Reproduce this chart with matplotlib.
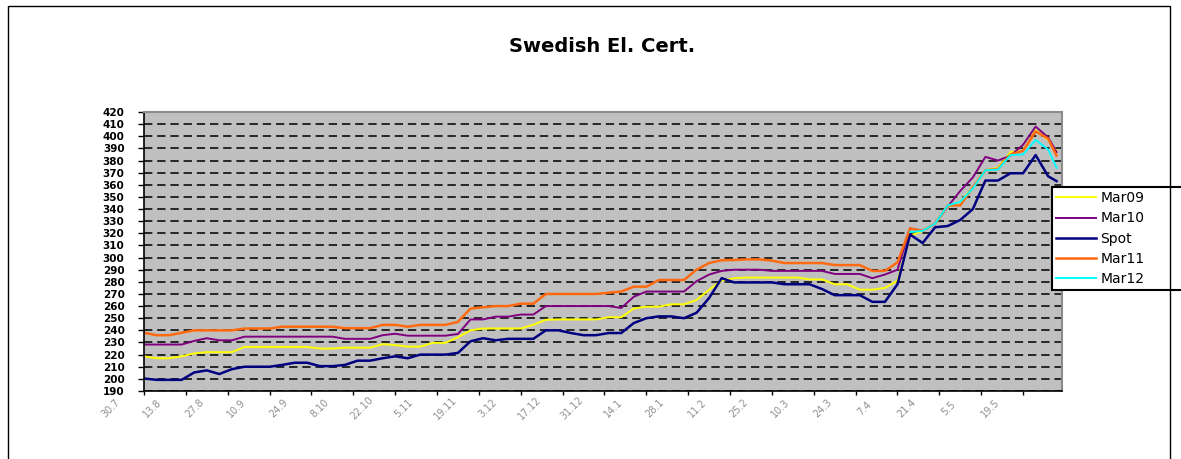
import numpy as np
import matplotlib
matplotlib.use("Agg")
import matplotlib.pyplot as plt
from matplotlib.transforms import ScaledTranslation
from matplotlib.patches import Rectangle

# trading day index (every 3rd day) and the five price series
day = [0, 3, 6, 9, 12, 15, 18, 21, 24, 27, 30, 33, 36, 39, 42, 45, 48, 51, 54, 57,
       60, 63, 66, 69, 72, 75, 78, 81, 84, 87, 90, 93, 96, 99, 102, 105, 108, 111, 114, 117,
       120, 123, 126, 129, 132, 135, 138, 141, 144, 147, 150, 153, 156, 159, 162, 165, 168, 171, 174, 177,
       180, 183, 186, 189, 192, 195, 198, 201, 204, 207, 210, 213, 216, 218]

mar09 = [218.6, 217, 217, 218.6, 221, 222, 222, 222, 226.3, 226.3, 226.3, 226.3, 226.3, 226.3, 225, 225, 225.7, 225.7, 225.7, 228.6,
         227.8, 226.6, 226.6, 229.7, 229.7, 234.3, 240, 241.5, 241.5, 241.5, 241.5, 244.6, 248.7, 249, 249, 249, 249, 250.8, 250.8, 258,
         259.5, 259.5, 261.5, 261.5, 265, 273.5, 281, 283, 283.5, 283.5, 283.5, 283.5, 283.5, 282, 282, 278, 278, 273.5, 273.5, 275,
         281, 318, 322, 328, 342, 346, 358, 372, 374, 387, 388, 405, 397, 388]

mar10 = [228.3, 228.3, 228.3, 228.3, 231.3, 233.5, 231.8, 231.8, 234.8, 234.8, 234.8, 234.8, 234.8, 234.8, 234.8, 234.8, 233, 233, 233, 236,
         237.2, 235.6, 235.6, 235.6, 235.6, 237, 249, 249, 251.3, 251.3, 253, 253, 260, 260, 260, 260, 260, 260, 258.4, 267.7,
         272, 272, 272, 272, 280.5, 286, 289, 290, 290, 290, 289, 289, 289, 289, 289, 286.5, 286.5, 286.5, 283, 286,
         290, 324, 322, 328, 342, 355, 366, 383, 380, 384, 393, 408, 399, 387]

spot = [200.3, 199.2, 199.2, 199.2, 205.3, 207, 204, 208, 210, 210, 210, 211.5, 213.3, 213.3, 210.5, 210.5, 211.5, 215, 215, 217,
        218.6, 217, 220, 220, 220, 221.4, 231, 233.5, 231.8, 233, 233, 233, 240, 240, 237.8, 236, 236, 237.8, 237.8, 246,
        250, 251.5, 251.5, 250, 254.5, 266.7, 283, 279.5, 279.5, 279.5, 279.5, 278, 278, 278, 274, 269, 269, 269, 263.5, 263.5,
        278, 319, 312, 325, 326, 331, 340, 363.5, 363.5, 369.5, 369.5, 384.5, 367, 363]

mar11 = [238, 236, 236, 238, 240, 240, 240, 240, 241.5, 241.5, 241.5, 243, 243, 243, 243, 243, 241.8, 241.8, 241.8, 244.5,
         244.5, 243, 244.5, 244.5, 244.5, 247, 258, 259, 260, 260, 262, 262, 270, 270, 270, 270, 270, 271, 272, 276,
         276, 281.5, 281.5, 281.5, 290, 295.5, 297.8, 298, 298.5, 298.5, 297.5, 295.5, 295.5, 295.5, 295.5, 293.8, 293.8, 293.8, 289, 289,
         296, 324, 322, 328, 343, 343, 358, 372, 373, 385, 388, 404, 398, 384]

# Mar12 only quoted from late March
mar12 = [np.nan] * 61 + [321, 322, 328, 343, 346, 357, 372, 372.5, 384.5, 385, 397, 389, 374]

tick_day = list(range(0, 220, 10))
tick_lbl = ["30.7", "13.8", "27.8", "10.9", "24.9", "8.10", "22.10", "5.11", "19.11", "3.12", "17.12",
            "31.12", "14.1", "28.1", "11.2", "25.2", "10.3", "24.3", "7.4", "21.4", "5.5", "19.5"]

plt.rcParams['lines.scale_dashes'] = False

fig = plt.figure(figsize=(11.81, 4.59), dpi=100)
fig.patch.set_facecolor("white")
fig.patches.append(Rectangle((8 / 1181, -0.05), 1162 / 1181, 1 - 6 / 459 + 0.05,
                             transform=fig.transFigure, fill=False, ec="black", lw=1))

ax = fig.add_axes([144 / 1181, 68 / 459, 918 / 1181, 279 / 459])
ax.set_facecolor("#C0C0C0")

ax.plot(day, mar09, color="#FFFF00", lw=1.4, label="Mar09")
ax.plot(day, mar10, color="#800080", lw=1.4, label="Mar10")
ax.plot(day, spot, color="#000080", lw=1.8, label="Spot")
ax.plot(day, mar11, color="#FF6A10", lw=1.8, label="Mar11")
ax.plot(day, mar12, color="#00FFFF", lw=1.4, label="Mar12")

ax.set_xlim(0, 219.3)
ax.set_ylim(190, 420)
ax.set_yticks(range(190, 421, 10))
ax.tick_params(axis="y", length=4, width=1, pad=10, labelsize=7.5)
for t in ax.get_yticklabels():
    t.set_fontweight("bold")

# dashed grid lines
ax.grid(axis="y", color="#1a1a1a", linestyle=(0, (6, 3.5)), linewidth=1.3)
ax.set_axisbelow(True)

ax.set_xticks(tick_day)
ax.set_xticklabels(tick_lbl)
ax.tick_params(axis="x", length=3, width=1, pad=0, labelsize=7, labelcolor="#909090")
off = ScaledTranslation(-0.33, -0.13, fig.dpi_scale_trans)
for t in ax.get_xticklabels():
    t.set_rotation(45)
    t.set_ha("center")
    t.set_va("center")
    t.set_transform(t.get_transform() + off)

for s in ["left", "bottom"]:
    ax.spines[s].set_color("black")
    ax.spines[s].set_linewidth(1.2)
for s in ["top", "right"]:
    ax.spines[s].set_color("#8c8c8c")
    ax.spines[s].set_linewidth(1.5)

fig.text(602 / 1181, 1 - 47 / 459, "Swedish El. Cert.", ha="center", va="center",
         fontsize=14, fontweight="bold")

# legend box runs off the right edge like the original
leg = ax.legend(loc="upper left", bbox_to_anchor=(1052 / 1181, 1 - 291 / 459, 150 / 1181, 104 / 459),
                bbox_transform=fig.transFigure, mode="expand", fontsize=10, frameon=True, fancybox=False,
                handlelength=2.9, handletextpad=0.3, labelspacing=0.45, borderpad=0.3,
                borderaxespad=0)
leg.get_frame().set_edgecolor("black")
leg.get_frame().set_linewidth(1.5)
leg.get_frame().set_facecolor("white")
leg.get_frame().set_alpha(1)

plt.savefig("out.png", dpi=100)
